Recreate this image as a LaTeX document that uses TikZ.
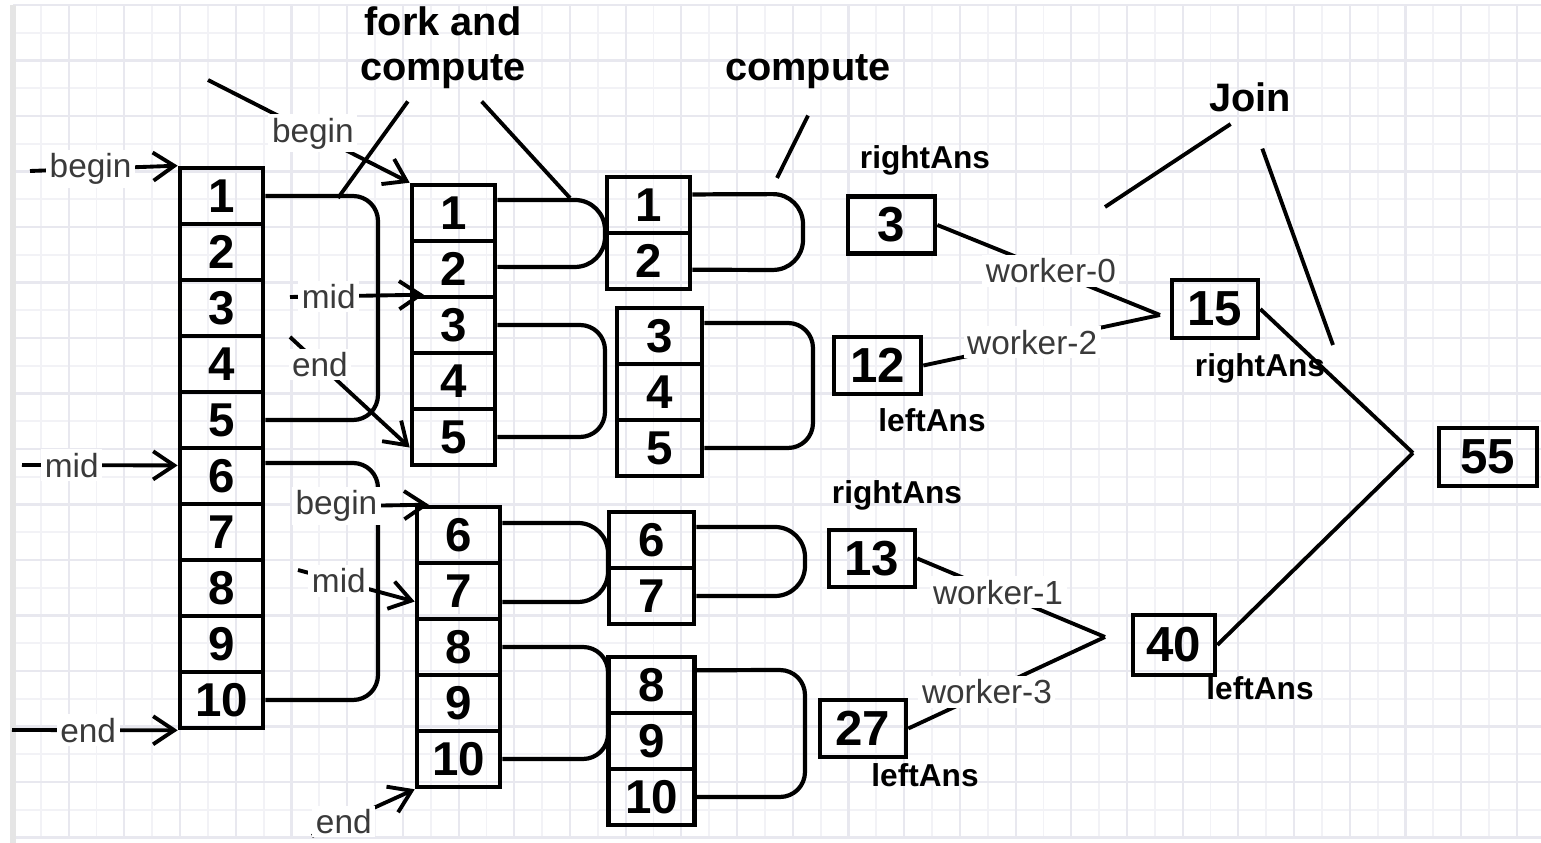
\documentclass[tikz,border=0pt]{standalone}
\usepackage{fontspec}
\setmainfont{Liberation Sans}
\usetikzlibrary{arrows.meta}

\definecolor{gridmaj}{HTML}{E8E8EF}
\definecolor{gridmin}{HTML}{F2F2F6}
\definecolor{labgray}{HTML}{3A3A3A}

\tikzset{
    cell/.style={draw, line width=1.3pt, minimum width=0.83cm, minimum height=0.56cm,
        inner sep=0pt, font=\fontsize{13.5}{15}\selectfont\bfseries},
    res/.style={draw, line width=1.3pt, minimum height=0.57cm, inner sep=0pt,
        font=\fontsize{14}{16}\selectfont\bfseries},
    link/.style={line width=1.2pt, rounded corners=2.5mm},
    note/.style={line width=1.1pt},
    ptr/.style={line width=1.1pt, -{Straight Barb[length=6pt,width=8pt]}},
    plab/.style={fill=white, inner sep=1pt, text=labgray, font=\fontsize{9.5}{11}\selectfont},
    ans/.style={font=\fontsize{9}{11}\selectfont\bfseries},
    title/.style={font=\fontsize{11.3}{12.8}\selectfont\bfseries, align=center}
}

\begin{document}
\begin{tikzpicture}[x=0.01cm, y=-0.01cm]
    \useasboundingbox (0,0) rectangle (1541,843);
    % Paper grid
    \foreach \k in {0,...,55}
        \draw[gridmin, line width=0.5pt] ({13+27.85*\k},5) -- ++(0,833);
    \foreach \k in {0,...,30}
        \draw[gridmin, line width=0.5pt] (13,{5+27.75*\k}) -- ++(1528,0);
    \foreach \k in {0,...,27}
        \draw[gridmaj, line width=0.6pt] ({13+55.7*\k},5) -- ++(0,833);
    \foreach \k in {0,...,15}
        \draw[gridmaj, line width=0.6pt] (13,{5+55.5*\k}) -- ++(1528,0);
    \draw[gray!20, line width=1.5pt] (13,843) -- (13,5);

    % Arrays
    \foreach \i in {1,...,10}
        \node[cell] (a\i) at (221.5,{140+56*\i}) {\i};
    \foreach \i in {1,...,5}
        \node[cell] (b\i) at (453.5,{157+56*\i}) {\i};
    \foreach \i in {6,...,10}
        \node[cell] (b\i) at (458.5,{199+56*\i}) {\i};
    \foreach \i in {1,2}
        \node[cell] (c\i) at (648.5,{149+56*\i}) {\i};
    \foreach \i in {3,4,5}
        \node[cell, minimum width=0.85cm] (c\i) at (659.5,{168+56*\i}) {\i};
    \foreach \i in {6,7}
        \node[cell, minimum width=0.85cm] (c\i) at (651.5,{204+56*\i}) {\i};
    \foreach \i in {8,9,10}
        \node[cell, minimum width=0.86cm] (c\i) at (651.5,{237+56*\i}) {\i};

    % Partial sums
    \node[res, minimum width=0.87cm] (r3) at (891.5,225) {3};
    \node[res, minimum width=0.87cm] (r12) at (877.5,365.5) {12};
    \node[res, minimum width=0.86cm] (r13) at (872,558.5) {13};
    \node[res, minimum width=0.86cm] (r27) at (863,728.5) {27};
    \node[res, minimum width=0.86cm, minimum height=0.58cm] (r15) at (1215,309) {15};
    \node[res, minimum width=0.82cm, minimum height=0.6cm] (r40) at (1174,645) {40};
    \node[res, minimum width=0.98cm, minimum height=0.58cm] (r55) at (1488,457) {55};

    \node[ans] (ra0) at (925,160) {rightAns};
    \node[ans] (la2) at (932,420) {leftAns};
    \node[ans] (ra1) at (897,495) {rightAns};
    \node[ans] (la3) at (925,775) {leftAns};
    \node[ans] (ra15) at (1260,368) {rightAns};
    \node[ans] (la40) at (1260,688) {leftAns};

    \node[title] (fork) at (443,48) {fork and\\compute};
    \node[title] (comp) at (808,72) {compute};
    \node[title] (join) at (1250,97) {Join};

    % Splits
    \draw[link] (a1.east) -- (378,196) -- (378,420) -- (a5.east);
    \draw[link] ([yshift=3.7pt]a6.east) -- (378,463) -- (378,700) -- (a10.east);
    \draw[link, rounded corners=3mm] ([yshift=3.7pt]b1.east) -- (605,200) -- (605,267) -- ([yshift=0.6pt]b2.east);
    \draw[link] (b3.east) -- (605,325) -- (605,437) -- (b5.east);
    \draw[link, rounded corners=3mm] ([yshift=3.4pt]b6.east) -- (608,523) -- (608,602) -- ([yshift=-3.1pt]b7.east);
    \draw[link] (b8.east) -- (608,647) -- (608,759) -- (b10.east);
    \draw[link, rounded corners=3mm] ([yshift=3pt]c1.east) -- (803,194) -- (803,270) -- ([yshift=-2.5pt]c2.east);
    \draw[link] ([yshift=3.7pt]c3.east) -- (813,323) -- (813,448) -- (c5.east);
    \draw[link, rounded corners=3mm] ([yshift=3.7pt]c6.east) -- (805,527) -- (805,596) -- (c7.east);
    \draw[link] ([yshift=4.2pt]c8.east) -- (805,670) -- (805,797) -- (c10.east);

    % Callouts
    \coordinate (fk1) at (338,198);
    \coordinate (fk2) at (570,198);
    \coordinate (cp1) at (777,178);
    \coordinate (jn1) at (1105,207);
    \coordinate (jn2) at (1333,345);
    \draw[note] ([xshift=-10pt]fork.south) -- (fk1);
    \draw[note] ([xshift=11pt]fork.south) -- (fk2);
    \draw[note] ([yshift=-4pt]comp.south) -- (cp1);
    \draw[note] ([xshift=-5.5pt]join.south) -- (jn1);
    \draw[note] ([xshift=3.5pt,yshift=-7pt]join.south) -- (jn2);

    % Index pointers
    \coordinate (sBeg) at (30,171);
    \coordinate (sMid) at (22,465);
    \coordinate (sEnd) at (12,730);
    \coordinate (tBeg) at (208,80);
    \coordinate (tMid) at (290,297);
    \coordinate (tEnd) at (290,337);
    \coordinate (uBeg) at (295,507);
    \coordinate (uMid) at (298,570);
    \coordinate (uEnd) at (312,836);
    \draw[ptr] (sBeg) -- node[plab, pos=0.41] {begin} (a1.north west);
    \draw[ptr] (sMid) -- node[plab, pos=0.32] {mid} ([yshift=3pt]a6.west);
    \draw[ptr] (sEnd) -- node[plab, pos=0.46] {end} (a10.south west);
    \draw[ptr] (tBeg) -- node[plab, pos=0.52] {begin} (b1.north west);
    \draw[ptr] (tMid) -- node[plab, pos=0.29] {mid} ([xshift=4pt]b3.north west);
    \draw[ptr] (tEnd) -- node[plab, pos=0.25] {end} ([yshift=-3pt]b5.west);
    \draw[ptr] (uBeg) -- node[plab, pos=0.31] {begin} ([xshift=4pt]b6.north west);
    \draw[ptr] (uMid) -- node[plab, pos=0.35] {mid} ([yshift=-3pt]b7.west);
    \draw[ptr] (uEnd) -- node[plab, pos=0.31] {end} (b10.south west);

    % Joins
    \coordinate (j15) at (1160,315);
    \coordinate (j40) at (1105,637);
    \coordinate (j55) at (1413,453);
    \draw[note] (r3.east) -- node[plab, pos=0.51] {worker-0} (j15);
    \draw[note] (r12.east) -- node[plab, pos=0.46] {worker-2} (j15);
    \draw[note] (r13.east) -- node[plab, pos=0.43] {worker-1} (j40);
    \draw[note] (r27.east) -- node[plab, pos=0.40] {worker-3} (j40);
    \draw[note] (r15.east) -- (j55);
    \draw[note] (r40.east) -- (j55);
\end{tikzpicture}
\end{document}
